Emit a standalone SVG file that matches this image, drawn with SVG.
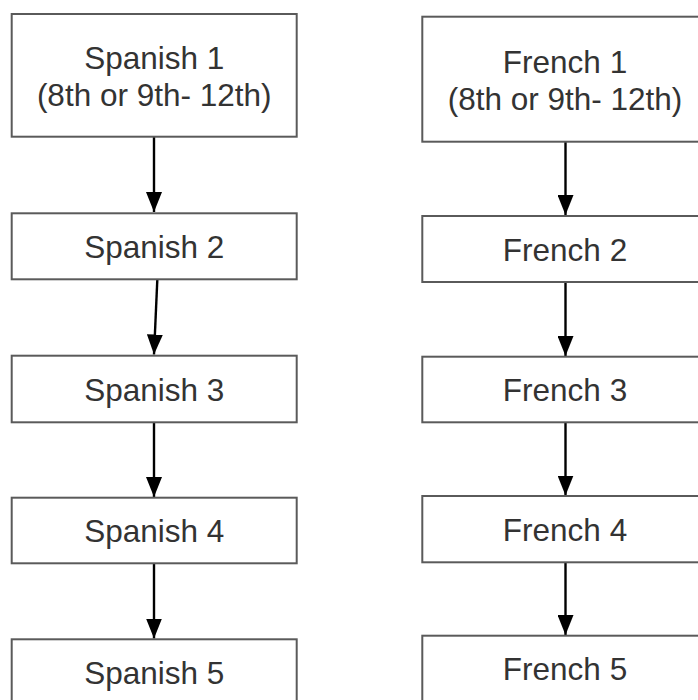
<svg xmlns="http://www.w3.org/2000/svg" width="698" height="700" viewBox="0 0 698 700">
<style>
.box{fill:#ffffff;stroke:#5a5a5a;stroke-width:2}
.lbl{font-family:"Liberation Sans",Arial,sans-serif;font-size:31.5px;fill:#333333;text-anchor:middle}
.arr{stroke:#000000;stroke-width:2.4;fill:none;marker-end:url(#ah)}
</style>
<defs>
<marker id="ah" markerUnits="userSpaceOnUse" markerWidth="21" markerHeight="16" refX="20" refY="8" orient="auto">
<path d="M0,0 L20,8 L0,16 z" fill="#000000"/>
</marker>
</defs>
<rect width="698" height="700" fill="#ffffff"/>
<g id="connectors">
<line class="arr" x1="154" y1="137" x2="154" y2="212"/>
<line class="arr" x1="157.3" y1="280" x2="154" y2="354.5"/>
<line class="arr" x1="154" y1="422.5" x2="154" y2="497"/>
<line class="arr" x1="154" y1="563.5" x2="154" y2="638.5"/>
<line class="arr" x1="565.5" y1="142" x2="565.5" y2="215"/>
<line class="arr" x1="565.5" y1="282" x2="565.5" y2="356"/>
<line class="arr" x1="565.5" y1="422.5" x2="565.5" y2="495.5"/>
<line class="arr" x1="565.5" y1="562.5" x2="565.5" y2="635"/>
</g>
<g id="spanish1"><rect class="box" x="11.7" y="14" width="285" height="122.7"/><text class="lbl" x="154.2" y="68.5">Spanish 1</text><text class="lbl" x="154.2" y="105.5">(8th or 9th- 12th)</text></g>
<g id="spanish2"><rect class="box" x="11.7" y="213.3" width="285" height="66"/><text class="lbl" x="154.2" y="257.8">Spanish 2</text></g>
<g id="spanish3"><rect class="box" x="11.7" y="355.7" width="285" height="66.6"/><text class="lbl" x="154.2" y="400.5">Spanish 3</text></g>
<g id="spanish4"><rect class="box" x="11.7" y="497.7" width="285" height="65.6"/><text class="lbl" x="154.2" y="542">Spanish 4</text></g>
<g id="spanish5"><rect class="box" x="11.7" y="639.3" width="285" height="66"/><text class="lbl" x="154.2" y="683.5">Spanish 5</text></g>
<g id="french1"><rect class="box" x="422.3" y="16.7" width="285" height="125"/><text class="lbl" x="565" y="72.5">French 1</text><text class="lbl" x="565" y="109.5">(8th or 9th- 12th)</text></g>
<g id="french2"><rect class="box" x="422.3" y="216" width="285" height="66"/><text class="lbl" x="565" y="260.5">French 2</text></g>
<g id="french3"><rect class="box" x="422.3" y="356.7" width="285" height="65.6"/><text class="lbl" x="565" y="401">French 3</text></g>
<g id="french4"><rect class="box" x="422.3" y="496" width="285" height="66.3"/><text class="lbl" x="565" y="540.5">French 4</text></g>
<g id="french5"><rect class="box" x="422.3" y="635.7" width="285" height="66"/><text class="lbl" x="565" y="679.5">French 5</text></g>
</svg>
